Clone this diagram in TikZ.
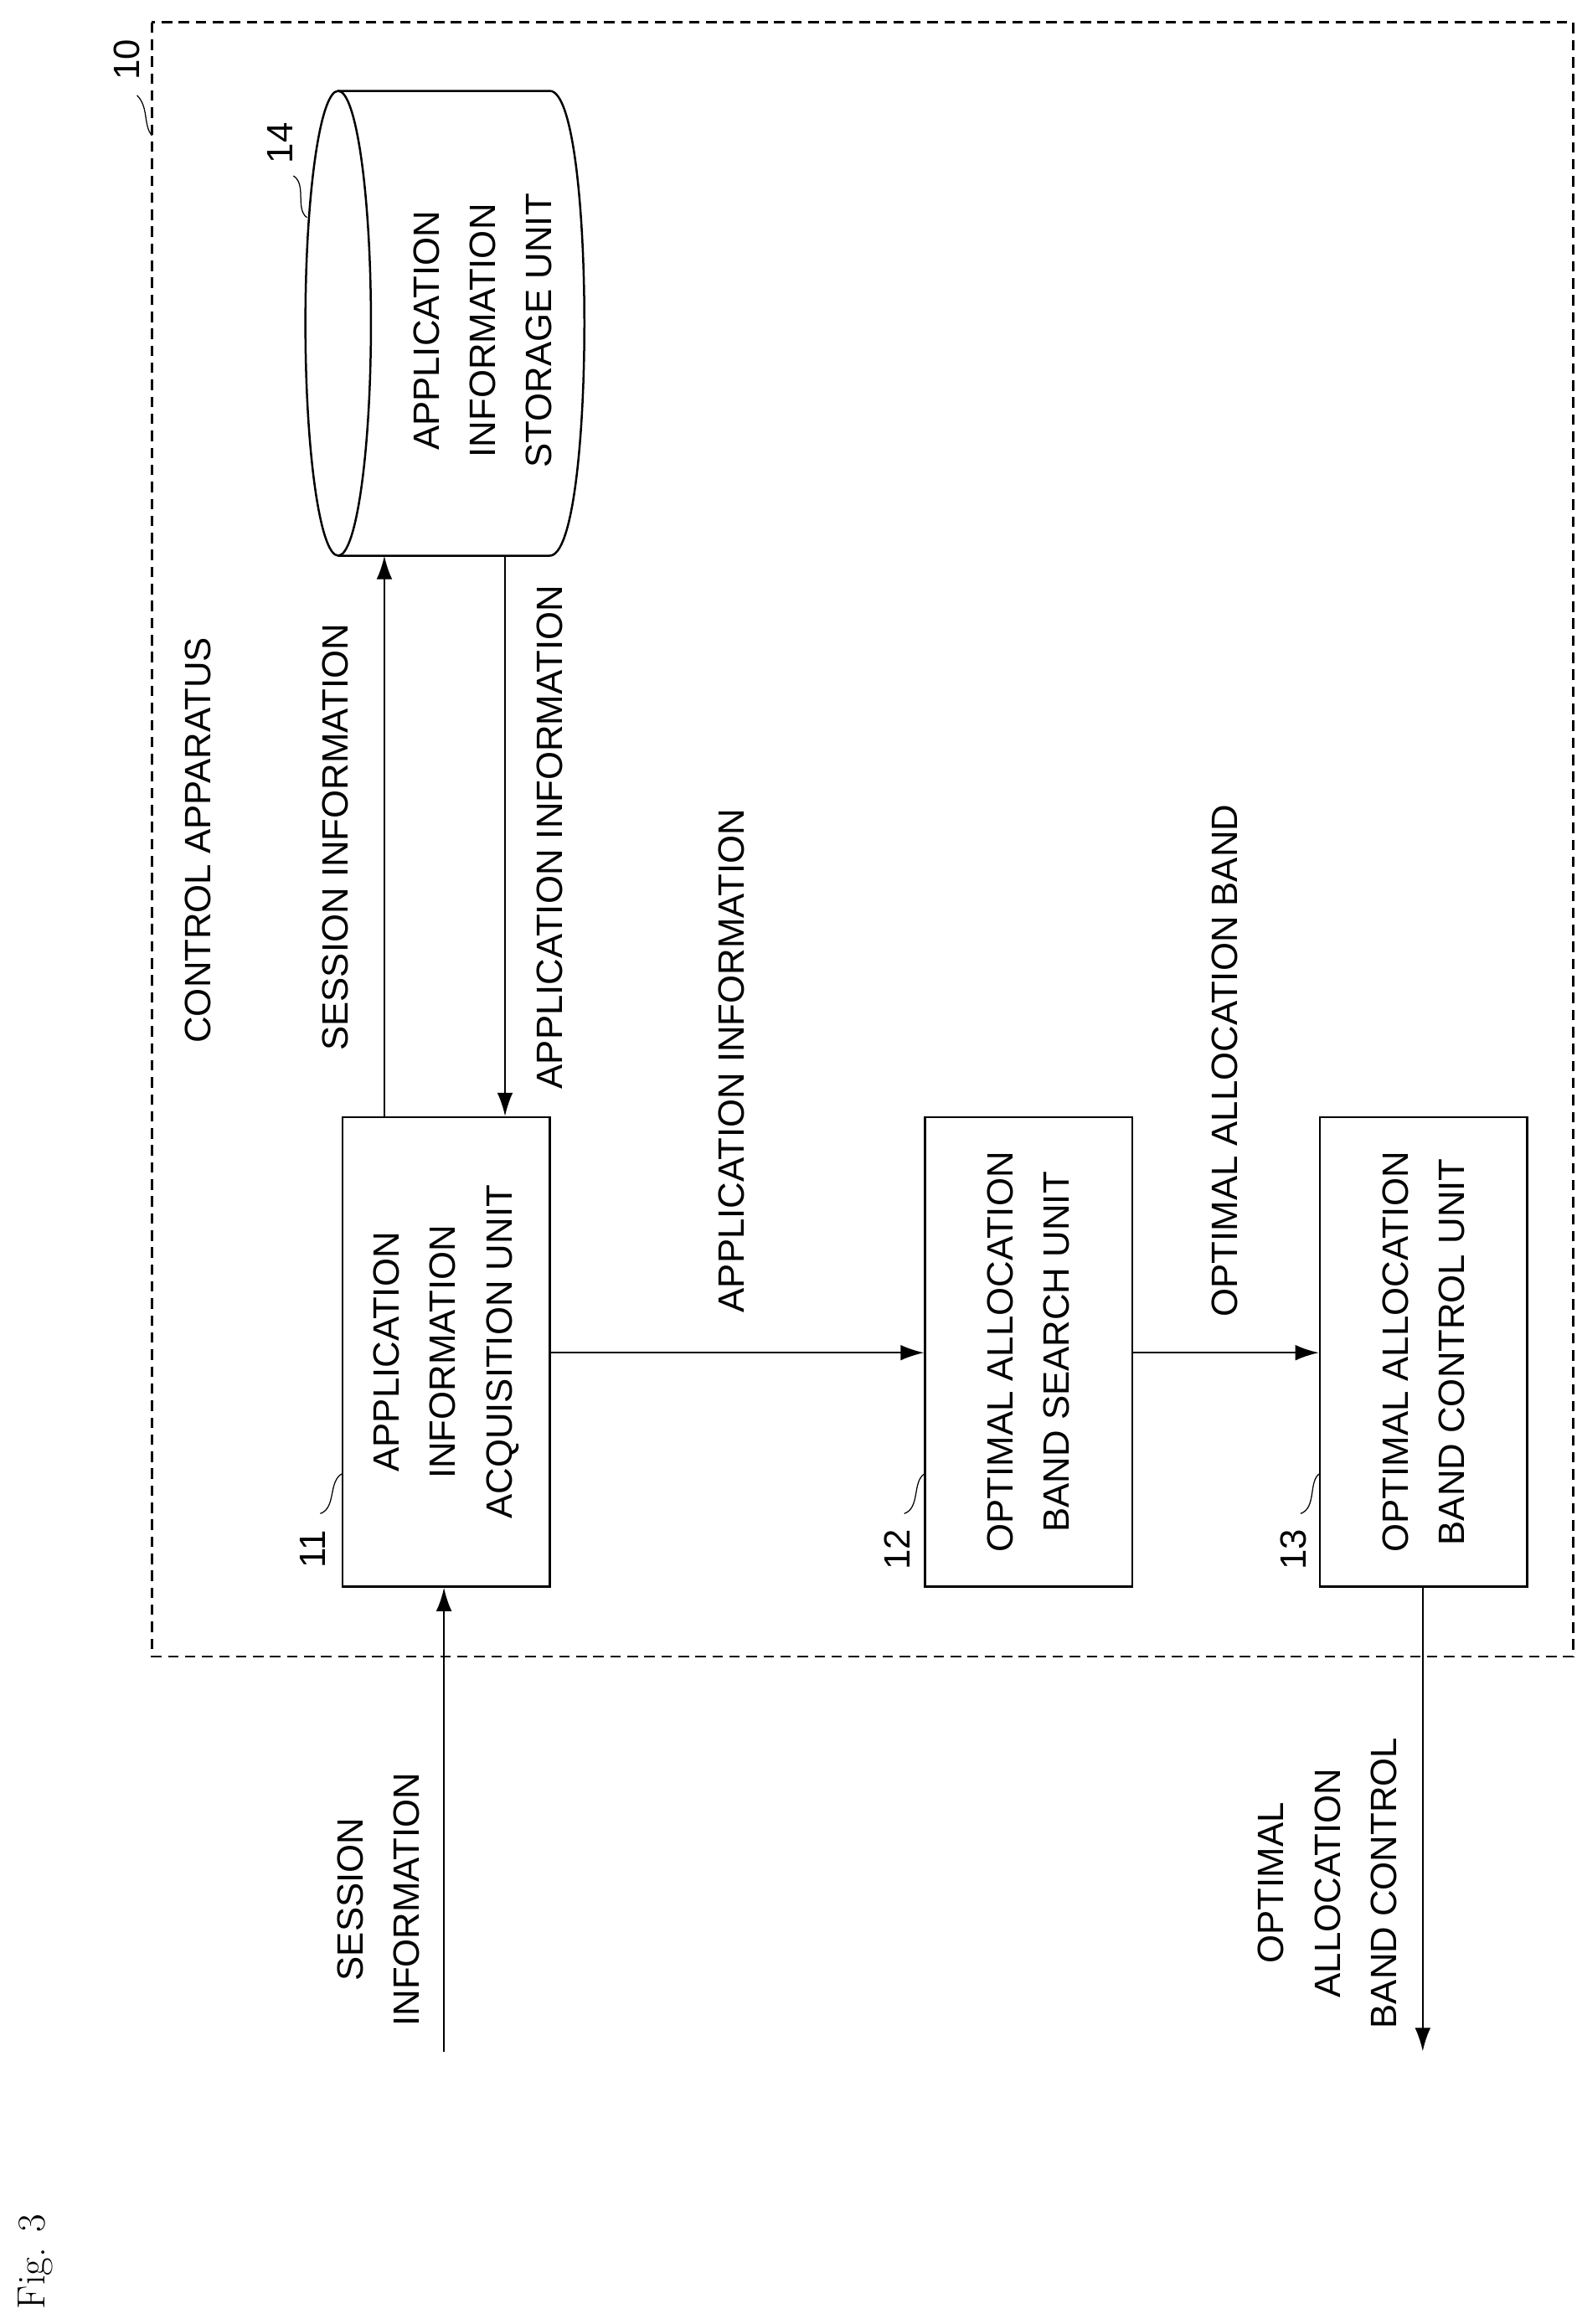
\documentclass[tikz,border=0pt]{standalone}
\usepackage{fontspec}
\setsansfont{Liberation Sans}
\usetikzlibrary{positioning,arrows.meta}

\tikzset{
  unit/.style={draw=black,thick,minimum width=139*0.02cm,minimum height=315*0.02cm},
  lbl/.style={rotate=90,align=center,font=\sffamily\fontsize{14}{21.5}\selectfont,inner sep=1pt},
  flow/.style={-{Latex[length=9pt,width=6pt]},thick},
}

\begin{document}
\begin{tikzpicture}[x=0.02cm,y=-0.02cm]
	\useasboundingbox (0,0) rectangle (1058,1560);
	\draw[thick,dash pattern=on 4pt off 2.5pt] (102,15) rectangle (1056,1112);
	\node[lbl] (n10) at (85,40) {10};
	\draw (92,64) .. controls (100,72) and (96,84) .. (102,91);
	\node[lbl] (ctrl) at (133,564) {CONTROL APPARATUS};
	% storage
	\draw[thick] (227,61) -- (369,61) .. controls (400,61) and (400,373) .. (369,373) -- (227,373);
	\draw[thick] (227,217) ellipse[x radius=22,y radius=156];
	\node[lbl] (store) at (324,222) {APPLICATION\\INFORMATION\\STORAGE UNIT};
	\coordinate (storeS) at (258,373);
	\coordinate (storeA) at (339,373);
	\node[lbl] (n14) at (188,96) {14};
	\draw (197,118) .. controls (206,124) and (198,140) .. (206,146);
	% units
	\node[unit] (acq) at (299.5,907.5) {};
	\node[lbl] at (acq) {APPLICATION\\INFORMATION\\ACQUISITION UNIT};
	\node[unit] (search) at (690.5,907.5) {};
	\node[lbl] at (search) {OPTIMAL ALLOCATION\\BAND SEARCH UNIT};
	\node[unit] (bandctl) at (955.5,907.5) {};
	\node[lbl] at (bandctl) {OPTIMAL ALLOCATION\\BAND CONTROL UNIT};
	\node[lbl] (n11) at (210,1040) {11};
	\draw (215,1016) .. controls (226,1012) and (220,994) .. (230,989);
	\node[lbl] (n12) at (602,1040) {12};
	\draw (607,1016) .. controls (618,1012) and (612,994) .. (621,989);
	\node[lbl] (n13) at (868,1040) {13};
	\draw (873,1016) .. controls (884,1012) and (878,994) .. (886,989);
	% flows
	\draw[flow] (acq.north west -| storeS) -- (storeS);
	\node[lbl] at (225,562) {SESSION INFORMATION};
	\draw[flow] (storeA) -- (acq.north west -| storeA);
	\node[lbl] at (369,562) {APPLICATION INFORMATION};
	\draw[flow] (acq.east |- 0,908) -- (search.west |- 0,908);
	\node[lbl] at (491,712) {APPLICATION INFORMATION};
	\draw[flow] (search.east |- 0,908) -- (bandctl.west |- 0,908);
	\node[lbl] at (822,712) {OPTIMAL ALLOCATION BAND};
	\coordinate (in) at (298,1377);
	\draw[flow] (in) -- (acq.south -| in);
	\node[lbl] at (254,1275) {SESSION\\INFORMATION};
	\coordinate (out) at (955,1377);
	\draw[flow] (bandctl.south -| out) -- (out);
	\node[lbl] at (891,1264) {OPTIMAL\\ALLOCATION\\BAND CONTROL};
	\node[rotate=90,font=\rmfamily\fontsize{15}{18}\selectfont] (fig) at (24,1518) {Fig. 3};
\end{tikzpicture}
\end{document}
